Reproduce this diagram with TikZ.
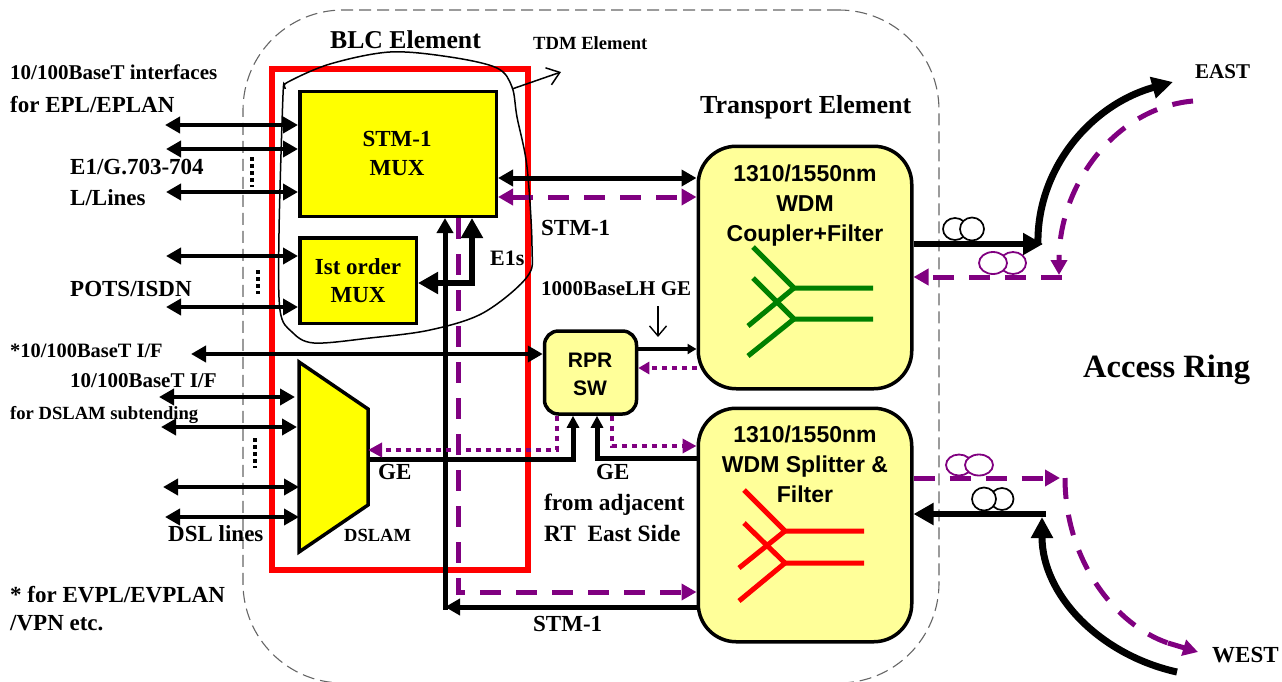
\documentclass[tikz,border=0pt]{standalone}
\usepackage{fontspec}
\setmainfont{Liberation Serif}
\newfontfamily\sansbf{Liberation Sans}[BoldFont={Liberation Sans Bold}]
\usetikzlibrary{arrows.meta,shapes.geometric}
\definecolor{boxy}{RGB}{255,255,153}
\definecolor{muxy}{RGB}{255,255,0}
\definecolor{redb}{RGB}{255,0,0}
\definecolor{purp}{RGB}{128,0,128}
\definecolor{grn}{RGB}{0,128,0}
\newcommand{\fs}[1]{\fontsize{#1}{#1}\selectfont}
\tikzset{
  lab/.style={inner sep=0pt,anchor=base west,font=\bfseries\fs{23}},
  labc/.style={inner sep=0pt,anchor=base,font=\bfseries\fs{23}},
  sanslab/.style={inner sep=0pt,anchor=base,font=\sansbf\bfseries\fs{23}},
  muxbox/.style={draw=black,fill=muxy,line width=3.5pt,rectangle,inner sep=0pt},
  palebox/.style={draw=black,fill=boxy,line width=3.5pt,rectangle,inner sep=0pt,rounded corners=38pt},
  bi/.style={line width=4.5pt,{Triangle[length=15pt,width=16pt]}-{Triangle[length=15pt,width=16pt]}},
  blk/.style={line width=5pt,line join=miter},
  pdash/.style={line width=5pt,color=purp,dash pattern=on 21pt off 15pt},
  pdot/.style={line width=4.5pt,color=purp,dash pattern=on 5pt off 5pt},
  phead/.style={-{Triangle[length=15pt,width=16pt]}},
  vdots/.style={line width=4pt,dash pattern=on 4pt off 3pt},
  coilb/.style={draw=black,fill=white,line width=1.7pt,ellipse,inner sep=0pt},
  coilp/.style={draw=purp,fill=white,line width=1.8pt,ellipse,inner sep=0pt},
  tree/.style={line width=5pt,line join=bevel},
}
\begin{document}
\begin{tikzpicture}[x=1pt,y=-1pt]
\useasboundingbox (0,0) rectangle (1282,681);
% outer dashed element
\begin{scope}
\clip (0,0) rectangle (1282,681);
\node[draw=black!60,line width=1.1pt,dash pattern=on 12pt off 6pt,rectangle,rounded corners=100pt,minimum width=696pt,minimum height=673pt,inner sep=0pt] (outer) at (591,346.5) {};
\end{scope}
% red BLC box
\node[draw=redb,line width=6pt,rectangle,minimum width=255.5pt,minimum height=501pt,inner sep=0pt] (blc) at (399.75,319.5) {};
% main boxes
\node[muxbox,minimum width=196.5pt,minimum height=125pt] (stm) at (398,153.75) {};
\node[muxbox,minimum width=116.5pt,minimum height=85.5pt] (ord) at (358,280.5) {};
\coordinate (dtl) at (299,362);
\coordinate (dtr) at (368,409);
\coordinate (dbr) at (368,505);
\coordinate (dbl) at (299,552);
\draw[muxbox,line join=miter] (dtl) -- (dtr) -- (dbr) -- (dbl) -- cycle;
\node[palebox,rounded corners=14pt,minimum width=92pt,minimum height=83pt] (rpr) at (590.5,372.5) {};
\node[palebox,minimum width=213.5pt,minimum height=242.5pt] (wa) at (805,267.5) {};
\node[palebox,minimum width=213.5pt,minimum height=233.5pt] (wb) at (805,525) {};
% trees
\draw[tree,grn] (753,247) -- (794,288) -- (873,288);
\draw[tree,grn] (753,278) -- (794,319) -- (873,319);
\draw[tree,grn] (748,326) -- (794,288);
\draw[tree,grn] (748,356) -- (794,319);
\draw[tree,redb] (744,490) -- (785,531) -- (864,531);
\draw[tree,redb] (744,523) -- (785,563) -- (864,563);
\draw[tree,redb] (739,568) -- (785,531);
\draw[tree,redb] (739,601) -- (785,563);
% left interface arrows
\coordinate (l1) at (165,125);
\coordinate (l2) at (166,149);
\coordinate (l3) at (166,192);
\coordinate (l4) at (166,256);
\coordinate (l5) at (166,307);
\coordinate (l6) at (191,354);
\coordinate (l7) at (159,397);
\coordinate (l8) at (161,427);
\coordinate (l9) at (163,487);
\coordinate (l10) at (165,517);
\coordinate (r7) at (295,397);
\coordinate (r8) at (297,427);
\coordinate (r9) at (299,487);
\coordinate (r10) at (299,517);
\draw[bi] (l1) -- (l1 -| stm.west);
\draw[bi] (l2) -- (l2 -| stm.west);
\draw[bi] (l3) -- (l3 -| stm.west);
\draw[bi] (l4) -- (l4 -| ord.west);
\draw[bi] (l5) -- (l5 -| ord.west);
\draw[bi] (l6) -- (l6 -| rpr.west);
\draw[bi] (l7) -- (r7);
\draw[bi] (l8) -- (r8);
\draw[bi] (l9) -- (r9);
\draw[bi] (l10) -- (r10);
% vertical dots
\coordinate (d1a) at (252,157); \coordinate (d1b) at (252,187);
\coordinate (d2a) at (258,270); \coordinate (d2b) at (258,294);
\coordinate (d3a) at (255,438); \coordinate (d3b) at (255,468);
\draw[vdots] (d1a) -- (d1b);
\draw[vdots] (d2a) -- (d2b);
\draw[vdots] (d3a) -- (d3b);
% STM-1 to WDM
\coordinate (s1) at (600,178);
\coordinate (s2) at (600,197);
\draw[bi,line width=5pt] (s1 -| stm.east) -- (s1 -| wa.west);
\draw[pdash,{Triangle[length=15pt,width=16pt]}-{Triangle[length=15pt,width=16pt]}] (s2 -| stm.east) -- (s2 -| wa.west);
% lower STM-1 loop
\coordinate (vb) at (445,607);
\coordinate (vbt) at (445,609.5);
\coordinate (vp) at (458,592);
\draw[blk,-{Triangle[length=15pt,width=16pt]}] (vbt) -- (vb |- stm.south);
\draw[blk,-{Triangle[length=15pt,width=16pt]}] (vb -| wb.west) -- (vb);
\draw[pdash,line join=miter,phead] (vp |- stm.south) -- (vp) -- (vp -| wb.west);
% E1s
\coordinate (e1) at (472,283);
\draw[line width=6pt,line join=miter,{Triangle[length=20pt,width=21pt]}-{Triangle[length=20pt,width=21pt]}] (e1 -| ord.east) -- (e1) -- (e1 |- stm.south);
% RPR to WDM1
\coordinate (ra) at (670,349);
\coordinate (rb) at (670,368);
\draw[line width=4.5pt,-{Triangle[length=9pt,width=10pt]}] (ra -| rpr.east) -- (ra -| wa.west);
\draw[pdot,-{Triangle[length=11pt,width=12pt]}] (rb -| wa.west) -- (rb -| rpr.east);
% GE lines
\coordinate (g1) at (573,459);
\coordinate (g2) at (597,458);
\draw[blk,-{Triangle[length=12pt,width=12pt]}] (g1 -| dbr) -- (g1) -- (g1 |- rpr.south);
\draw[blk,-{Triangle[length=12pt,width=12pt]}] (g2 -| wb.west) -- (g2) -- (g2 |- rpr.south);
\coordinate (p1) at (557,450);
\coordinate (p2) at (612,446);
\draw[pdot,line join=miter,-{Triangle[length=14pt,width=14pt]}] (p1 |- rpr.south) -- (p1) -- (p1 -| dbr);
\draw[pdot,line join=miter,-{Triangle[length=14pt,width=14pt]}] (p2 |- rpr.south) -- (p2) -- (p2 -| wb.west);
% 1000BaseLH pointer
\coordinate (ha) at (658,306);
\coordinate (hb) at (658,337);
\draw[line width=1.4pt,-{Straight Barb[length=10pt,width=17pt]}] (ha) -- (hb);
% TDM blob
\draw[line width=1.5pt] plot[smooth cycle,tension=0.55] coordinates {(288,82) (330,64) (390,52) (450,57) (497,68) (512,87) (517,117) (527,167) (532,247) (527,277) (483,313) (430,330) (370,338) (314,343) (292,332) (280,310) (279,233) (283,95) (285,88)};
\coordinate (ta) at (512,89);
\coordinate (tb) at (561,72);
\draw[line width=1.5pt,-{Straight Barb[length=12pt,width=18pt]}] (ta) -- (tb);
% EAST
\coordinate (ea) at (1043,244);
\coordinate (eb) at (1173,82);
\coordinate (ec) at (1193,101);
\coordinate (ed) at (1059,260);
\coordinate (edh) at (1059,275);
\coordinate (ee) at (1062,277);
\coordinate (es) at (1038,245);
\draw[line width=5.5pt,-{Triangle[length=20pt,width=21pt]}] (ea -| wa.east) -- (ea);
\draw[line width=7pt,-{Triangle[length=21pt,width=21pt]}] (es) .. controls (1036,170) and (1090,105) .. (eb);
\draw[pdash,dash pattern=on 21pt off 16pt] (ec) .. controls (1115,108) and (1059,185) .. (ed);
\draw[line width=5pt,color=purp,phead] (ed) -- (edh);
\draw[pdash,phead] (ee) -- (ee -| wa.east);
\node[coilb,minimum width=24pt,minimum height=22pt] (c1) at (955,229) {};
\node[coilb,minimum width=24pt,minimum height=23pt] (c2) at (972,229) {};
\node[coilp,minimum width=26pt,minimum height=22pt] (c3) at (1013,263) {};
\node[coilp,minimum width=28pt,minimum height=22pt] (c4) at (993,263) {};
% WEST
\coordinate (wc) at (1060,478);
\coordinate (wd) at (1046,514);
\coordinate (we) at (1177,672);
\coordinate (wf) at (1042,517);
\coordinate (wg) at (1065,478);
\coordinate (wh) at (1198,652);
\coordinate (wi) at (1168,643);
\draw[pdash,phead] (wc -| wb.east) -- (wc);
\draw[line width=5.5pt,-{Triangle[length=20pt,width=21pt]}] (wd) -- (wd -| wb.east);
\draw[line width=7pt,-{Triangle[length=21pt,width=21pt]}] (we) .. controls (1100,655) and (1042,595) .. (wf);
\draw[pdash,dash pattern=on 21pt off 16pt] (wg) .. controls (1065,560) and (1115,625) .. (wi);
\draw[line width=5pt,color=purp,phead] (wi) -- (wh);
\node[coilp,minimum width=26pt,minimum height=21pt] (c5) at (959,465) {};
\node[coilp,minimum width=28pt,minimum height=21pt] (c6) at (979,465) {};
\node[coilb,minimum width=23pt,minimum height=22pt] (c7) at (1002,499) {};
\node[coilb,minimum width=24pt,minimum height=23pt] (c8) at (984,499) {};
% texts
\node[lab,font=\bfseries\fs{25.7}] (t1) at (330,48) {BLC Element};
\node[lab,font=\bfseries\fs{18.6}] (t2) at (533,49) {TDM Element};
\node[lab,font=\bfseries\fs{21}] (t3) at (10,79) {10/100BaseT interfaces};
\node[lab] (t4) at (10,112) {for EPL/EPLAN};
\node[lab] (t5) at (70,174) {E1/G.703-704};
\node[lab] (t6) at (70,205) {L/Lines};
\node[lab] (t7) at (70,296) {POTS/ISDN};
\node[lab,font=\bfseries\fs{20.4}] (t8) at (10,357) {*10/100BaseT I/F};
\node[lab,font=\bfseries\fs{21}] (t9) at (70,387) {10/100BaseT I/F};
\node[lab,font=\bfseries\fs{18.6}] (t10) at (10,419) {for DSLAM subtending};
\node[lab] (t11) at (168,541) {DSL lines};
\node[lab,font=\bfseries\fs{18.5}] (t12) at (344,541) {DSLAM};
\node[lab] (t13) at (378,479) {GE};
\node[lab] (t14) at (596,479) {GE};
\node[lab,font=\bfseries\fs{23.4}] (t15) at (544,510) {from adjacent};
\node[lab,font=\bfseries\fs{23.4}] (t16) at (544,541) {RT\ \ East Side};
\node[lab] (t17) at (541,235) {STM-1};
\node[lab,font=\bfseries\fs{22}] (t18) at (490,265) {E1s};
\node[lab,font=\bfseries\fs{21}] (t19) at (541,295) {1000BaseLH GE};
\node[lab,font=\bfseries\fs{26}] (t20) at (700,113) {Transport Element};
\node[lab,font=\bfseries\fs{32.5}] (t21) at (1083,377) {Access Ring};
\node[lab,font=\bfseries\fs{21}] (t22) at (1195,78) {EAST};
\node[lab] (t23) at (1212,662) {WEST};
\node[lab] (t24) at (10,602) {* for EVPL/EVPLAN};
\node[lab] (t25) at (10,630) {/VPN etc.};
\node[lab] (t26) at (533,631) {STM-1};
\node[labc] (t27) at (397,146) {STM-1};
\node[labc] (t28) at (397,175) {MUX};
\node[labc] (t29) at (358,274) {Ist order};
\node[labc] (t30) at (358,302) {MUX};
\node[sanslab,font=\sansbf\bfseries\fs{21}] (t31) at (590,367) {RPR};
\node[sanslab,font=\sansbf\bfseries\fs{21}] (t32) at (590,395) {SW};
\node[sanslab] (t33) at (805,181) {1310/1550nm};
\node[sanslab] (t34) at (805,211) {WDM};
\node[sanslab] (t35) at (805,241) {Coupler+Filter};
\node[sanslab] (t36) at (805,442) {1310/1550nm};
\node[sanslab] (t37) at (805,472) {WDM Splitter \&};
\node[sanslab] (t38) at (805,502) {Filter};
\end{tikzpicture}
\end{document}
